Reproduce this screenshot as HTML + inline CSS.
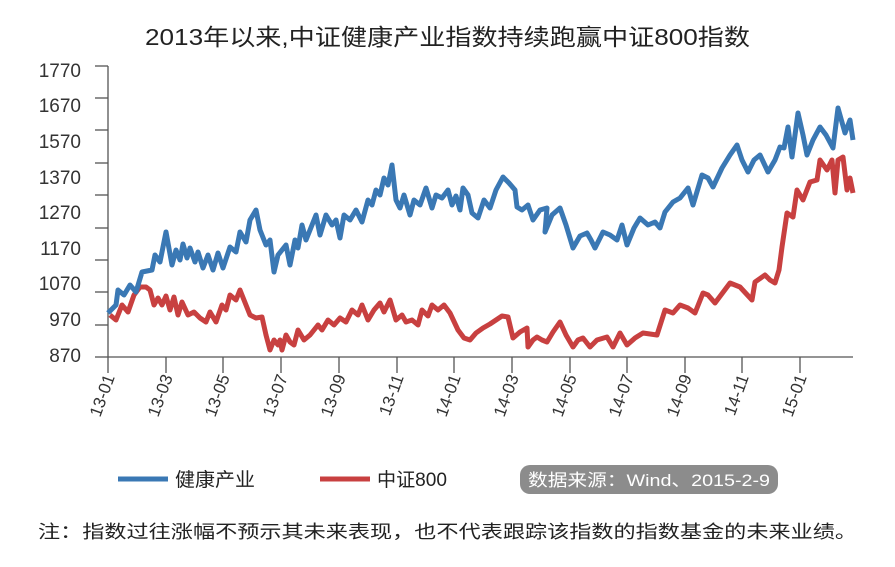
<!DOCTYPE html><html><head><meta charset="utf-8"><style>body{margin:0;background:#fff}svg{display:block}text{font-family:"Liberation Sans","Noto Sans CJK SC",sans-serif}</style></head><body>
<svg width="895" height="567" viewBox="0 0 895 567">
<text x="145" y="45" font-size="23" textLength="605" lengthAdjust="spacingAndGlyphs" fill="#222">2013年以来,中证健康产业指数持续跑赢中证800指数</text>
<g stroke="#555" stroke-width="1.3">
<line x1="108" y1="66" x2="108" y2="357"/><line x1="108" y1="357" x2="853" y2="357"/>
<line x1="95" y1="66" x2="108" y2="66"/><line x1="95" y1="98" x2="108" y2="98"/><line x1="95" y1="130" x2="108" y2="130"/><line x1="95" y1="163" x2="108" y2="163"/><line x1="95" y1="195" x2="108" y2="195"/><line x1="95" y1="228" x2="108" y2="228"/><line x1="95" y1="260" x2="108" y2="260"/><line x1="95" y1="292" x2="108" y2="292"/><line x1="95" y1="325" x2="108" y2="325"/><line x1="95" y1="357" x2="108" y2="357"/>
<line x1="108" y1="357" x2="108" y2="373"/><line x1="166" y1="357" x2="166" y2="373"/><line x1="223" y1="357" x2="223" y2="373"/><line x1="281" y1="357" x2="281" y2="373"/><line x1="339" y1="357" x2="339" y2="373"/><line x1="397" y1="357" x2="397" y2="373"/><line x1="454" y1="357" x2="454" y2="373"/><line x1="512" y1="357" x2="512" y2="373"/><line x1="570" y1="357" x2="570" y2="373"/><line x1="627" y1="357" x2="627" y2="373"/><line x1="685" y1="357" x2="685" y2="373"/><line x1="742" y1="357" x2="742" y2="373"/><line x1="800" y1="357" x2="800" y2="373"/>
</g>
<g font-size="19" fill="#333" text-anchor="end">
<text x="81" y="77">1770</text><text x="81" y="112">1670</text><text x="81" y="148">1570</text><text x="81" y="184">1370</text><text x="81" y="219">1270</text><text x="81" y="255">1170</text><text x="81" y="290">1070</text><text x="81" y="326">970</text><text x="81" y="362">870</text>
</g>
<g font-size="17" fill="#333" text-anchor="end">
<text transform="translate(115,377) rotate(-70)">13-01</text><text transform="translate(173,377) rotate(-70)">13-03</text><text transform="translate(230,377) rotate(-70)">13-05</text><text transform="translate(288,377) rotate(-70)">13-07</text><text transform="translate(346,377) rotate(-70)">13-09</text><text transform="translate(404,377) rotate(-70)">13-11</text><text transform="translate(461,377) rotate(-70)">14-01</text><text transform="translate(519,377) rotate(-70)">14-03</text><text transform="translate(577,377) rotate(-70)">14-05</text><text transform="translate(634,377) rotate(-70)">14-07</text><text transform="translate(692,377) rotate(-70)">14-09</text><text transform="translate(749,377) rotate(-70)">14-11</text><text transform="translate(807,377) rotate(-70)">15-01</text>
</g>
<polyline fill="none" stroke="#c84040" stroke-width="5" stroke-linejoin="round" points="110,315 116,320 122,305 128,312 134,295 140,287 146,287 150,290 154,305 158,298 162,305 166,296 170,310 174,297 178,315 182,302 188,315 194,312 200,318 206,322 210,312 216,322 222,305 226,310 230,295 236,300 240,290 246,305 250,315 256,318 262,317 266,335 270,350 274,340 278,345 280,340 282,350 286,335 290,342 294,345 298,330 304,340 310,335 318,325 322,330 328,320 334,325 340,318 346,322 352,310 358,315 362,305 368,320 374,310 380,303 384,312 390,300 396,320 402,315 406,322 412,320 418,325 422,310 428,316 432,305 438,310 444,305 450,313 458,330 464,338 470,340 476,333 483,328 490,324 496,320 502,316 508,317 513,338 520,332 527,328 528,347 533,340 537,337 542,340 547,342 553,332 560,322 566,335 573,347 578,340 583,338 590,347 597,340 607,337 613,347 620,333 627,345 635,338 643,333 657,335 665,310 673,313 680,305 688,308 695,313 703,293 708,295 715,303 730,283 740,287 752,300 755,282 765,275 770,280 775,283 779,270 782,247 787,213 793,217 797,190 803,200 810,182 817,180 820,160 827,170 832,160 835,193 838,160 843,157 847,190 850,178 853,193"/>
<polyline fill="none" stroke="#3a78b4" stroke-width="5" stroke-linejoin="round" points="108,313 116,305 118,290 124,295 130,285 136,292 142,272 152,270 155,255 160,262 166,232 172,265 176,250 180,260 183,244 187,258 190,248 195,262 198,252 203,268 208,255 213,270 218,253 223,268 230,247 236,252 240,232 246,242 250,220 256,210 260,230 266,245 270,240 274,272 278,255 282,250 286,245 290,265 295,240 298,248 302,225 306,240 310,230 316,215 320,235 326,215 332,225 336,220 340,238 344,215 350,220 356,210 362,222 368,200 372,205 376,190 380,195 384,178 388,185 392,165 396,200 400,208 404,195 410,215 414,200 420,205 426,188 432,208 436,195 442,198 448,190 452,205 456,196 460,210 463,188 468,195 472,213 478,218 484,200 490,208 496,190 503,177 509,183 515,190 517,207 522,210 528,205 533,220 540,210 547,208 545,232 552,215 560,208 566,225 573,248 580,236 587,233 591,240 595,248 603,232 610,235 617,240 622,225 627,245 634,228 640,218 648,225 655,222 660,228 665,212 673,202 680,198 688,188 693,205 702,175 708,178 713,187 722,168 730,155 737,145 742,160 748,172 754,160 760,155 768,172 775,160 780,147 784,148 788,127 792,157 798,113 803,135 807,155 813,140 820,127 826,135 833,148 838,108 845,133 850,120 853,140"/>
<line x1="118" y1="479" x2="168" y2="479" stroke="#3a78b4" stroke-width="5"/>
<text x="175" y="486" font-size="19" textLength="80" lengthAdjust="spacingAndGlyphs" fill="#222">健康产业</text>
<line x1="320" y1="479" x2="370" y2="479" stroke="#c84040" stroke-width="5"/>
<text x="377" y="486" font-size="19" textLength="70" lengthAdjust="spacingAndGlyphs" fill="#222">中证800</text>
<rect x="520" y="465" width="258" height="29" rx="10" fill="#8c8c8c"/>
<text x="528" y="486" font-size="17" fill="#fff" textLength="242" lengthAdjust="spacingAndGlyphs">数据来源：Wind、2015-2-9</text>
<text x="38" y="538" font-size="18" fill="#222" textLength="819" lengthAdjust="spacingAndGlyphs">注：指数过往涨幅不预示其未来表现，也不代表跟踪该指数的指数基金的未来业绩。</text>
</svg></body></html>
